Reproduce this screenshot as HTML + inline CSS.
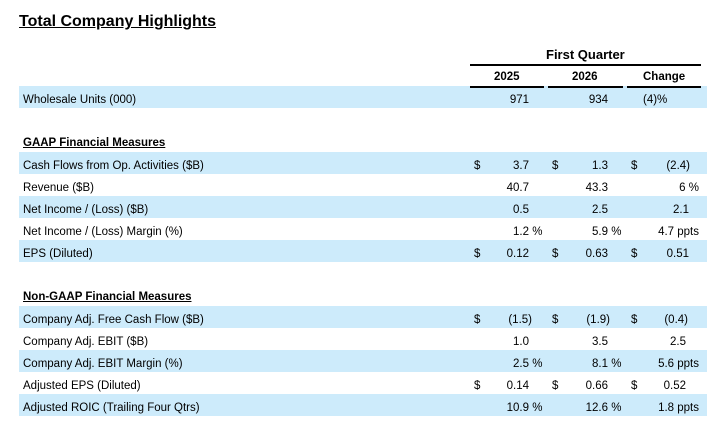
<!DOCTYPE html>
<html>
<head>
<meta charset="utf-8">
<style>
html,body{margin:0;padding:0;background:#fff;}
body{width:719px;height:425px;position:relative;overflow:hidden;font-family:"Liberation Sans",Arial,sans-serif;color:#000;}
.a{position:absolute;white-space:nowrap;}
.band{position:absolute;left:19px;width:688px;height:22px;background:#cdebfb;}
.lbl{position:absolute;left:23px;font-size:11.5px;line-height:22px;height:22px;white-space:nowrap;}
.t{position:absolute;font-size:11.5px;line-height:22px;height:22px;white-space:nowrap;}
.r1{right:190px;text-align:right;}
.r2{right:111px;text-align:right;}
.r3{right:30px;text-align:right;}
.r3s{right:20px;text-align:right;}
.d1{left:474px;}
.d2{left:552px;}
.d3{left:631px;}
.sfx1{left:529px;}
.sfx2{left:608px;}
.hdr{position:absolute;left:23px;font-size:11.5px;font-weight:bold;text-decoration:underline;white-space:nowrap;}
.line{position:absolute;height:2px;background:#000;}
.b{font-weight:bold;}
</style>
</head>
<body>
<div class="a" style="left:19px;top:13px;font-size:16px;font-weight:bold;text-decoration:underline;">Total Company Highlights</div>

<div class="a b" style="left:546px;top:47px;font-size:13px;">First Quarter</div>
<div class="line" style="left:470px;top:64px;width:231px;"></div>
<div class="a b" style="left:494px;top:71px;font-size:11.5px;">2025</div>
<div class="a b" style="left:572px;top:71px;font-size:11.5px;">2026</div>
<div class="a b" style="left:643px;top:71px;font-size:11.5px;">Change</div>

<!-- bands -->
<div class="band" style="top:86px;"></div>
<div class="band" style="top:152px;"></div>
<div class="band" style="top:196px;"></div>
<div class="band" style="top:240px;"></div>
<div class="band" style="top:306px;"></div>
<div class="band" style="top:350px;"></div>
<div class="band" style="top:394px;"></div>

<div class="line" style="left:470px;top:86px;width:74px;"></div>
<div class="line" style="left:548px;top:86px;width:75px;"></div>
<div class="line" style="left:627px;top:86px;width:74px;"></div>

<!-- Wholesale -->
<div class="lbl" style="top:89px;">Wholesale Units (000)</div>
<div class="t r1" style="top:89px;">971</div>
<div class="t r2" style="top:89px;">934</div>
<div class="t" style="left:643px;top:89px;">(4)%</div>

<div class="hdr" style="top:137px;">GAAP Financial Measures</div>

<!-- Cash flows -->
<div class="lbl" style="top:155px;">Cash Flows from Op. Activities ($B)</div>
<div class="t d1" style="top:155px;">$</div>
<div class="t r1" style="top:155px;">3.7</div>
<div class="t d2" style="top:155px;">$</div>
<div class="t r2" style="top:155px;">1.3</div>
<div class="t d3" style="top:155px;">$</div>
<div class="t" style="top:155px;right:29px;">(2.4)</div>

<!-- Revenue -->
<div class="lbl" style="top:177px;">Revenue ($B)</div>
<div class="t r1" style="top:177px;">40.7</div>
<div class="t r2" style="top:177px;">43.3</div>
<div class="t r3s" style="top:177px;">6 %</div>

<!-- Net income -->
<div class="lbl" style="top:199px;">Net Income / (Loss) ($B)</div>
<div class="t r1" style="top:199px;">0.5</div>
<div class="t r2" style="top:199px;">2.5</div>
<div class="t r3" style="top:199px;">2.1</div>

<!-- Margin -->
<div class="lbl" style="top:221px;">Net Income / (Loss) Margin (%)</div>
<div class="t r1" style="top:221px;">1.2</div>
<div class="t sfx1" style="top:221px;">&nbsp;%</div>
<div class="t r2" style="top:221px;">5.9</div>
<div class="t sfx2" style="top:221px;">&nbsp;%</div>
<div class="t r3s" style="top:221px;">4.7 ppts</div>

<!-- EPS -->
<div class="lbl" style="top:243px;">EPS (Diluted)</div>
<div class="t d1" style="top:243px;">$</div>
<div class="t r1" style="top:243px;">0.12</div>
<div class="t d2" style="top:243px;">$</div>
<div class="t r2" style="top:243px;">0.63</div>
<div class="t d3" style="top:243px;">$</div>
<div class="t r3" style="top:243px;">0.51</div>

<div class="hdr" style="top:291px;">Non-GAAP Financial Measures</div>

<!-- Adj FCF -->
<div class="lbl" style="top:309px;">Company Adj. Free Cash Flow ($B)</div>
<div class="t d1" style="top:309px;">$</div>
<div class="t" style="top:309px;right:187px;">(1.5)</div>
<div class="t d2" style="top:309px;">$</div>
<div class="t" style="top:309px;right:109px;">(1.9)</div>
<div class="t d3" style="top:309px;">$</div>
<div class="t" style="top:309px;right:31px;">(0.4)</div>

<!-- EBIT -->
<div class="lbl" style="top:331px;">Company Adj. EBIT ($B)</div>
<div class="t r1" style="top:331px;">1.0</div>
<div class="t r2" style="top:331px;">3.5</div>
<div class="t" style="top:331px;right:33px;">2.5</div>

<!-- EBIT margin -->
<div class="lbl" style="top:353px;">Company Adj. EBIT Margin (%)</div>
<div class="t r1" style="top:353px;">2.5</div>
<div class="t sfx1" style="top:353px;">&nbsp;%</div>
<div class="t r2" style="top:353px;">8.1</div>
<div class="t sfx2" style="top:353px;">&nbsp;%</div>
<div class="t r3s" style="top:353px;">5.6 ppts</div>

<!-- Adj EPS -->
<div class="lbl" style="top:375px;">Adjusted EPS (Diluted)</div>
<div class="t d1" style="top:375px;">$</div>
<div class="t r1" style="top:375px;">0.14</div>
<div class="t d2" style="top:375px;">$</div>
<div class="t r2" style="top:375px;">0.66</div>
<div class="t d3" style="top:375px;">$</div>
<div class="t" style="top:375px;right:33px;">0.52</div>

<!-- ROIC -->
<div class="lbl" style="top:397px;">Adjusted ROIC (Trailing Four Qtrs)</div>
<div class="t r1" style="top:397px;">10.9</div>
<div class="t sfx1" style="top:397px;">&nbsp;%</div>
<div class="t r2" style="top:397px;">12.6</div>
<div class="t sfx2" style="top:397px;">&nbsp;%</div>
<div class="t r3s" style="top:397px;">1.8 ppts</div>
</body>
</html>
